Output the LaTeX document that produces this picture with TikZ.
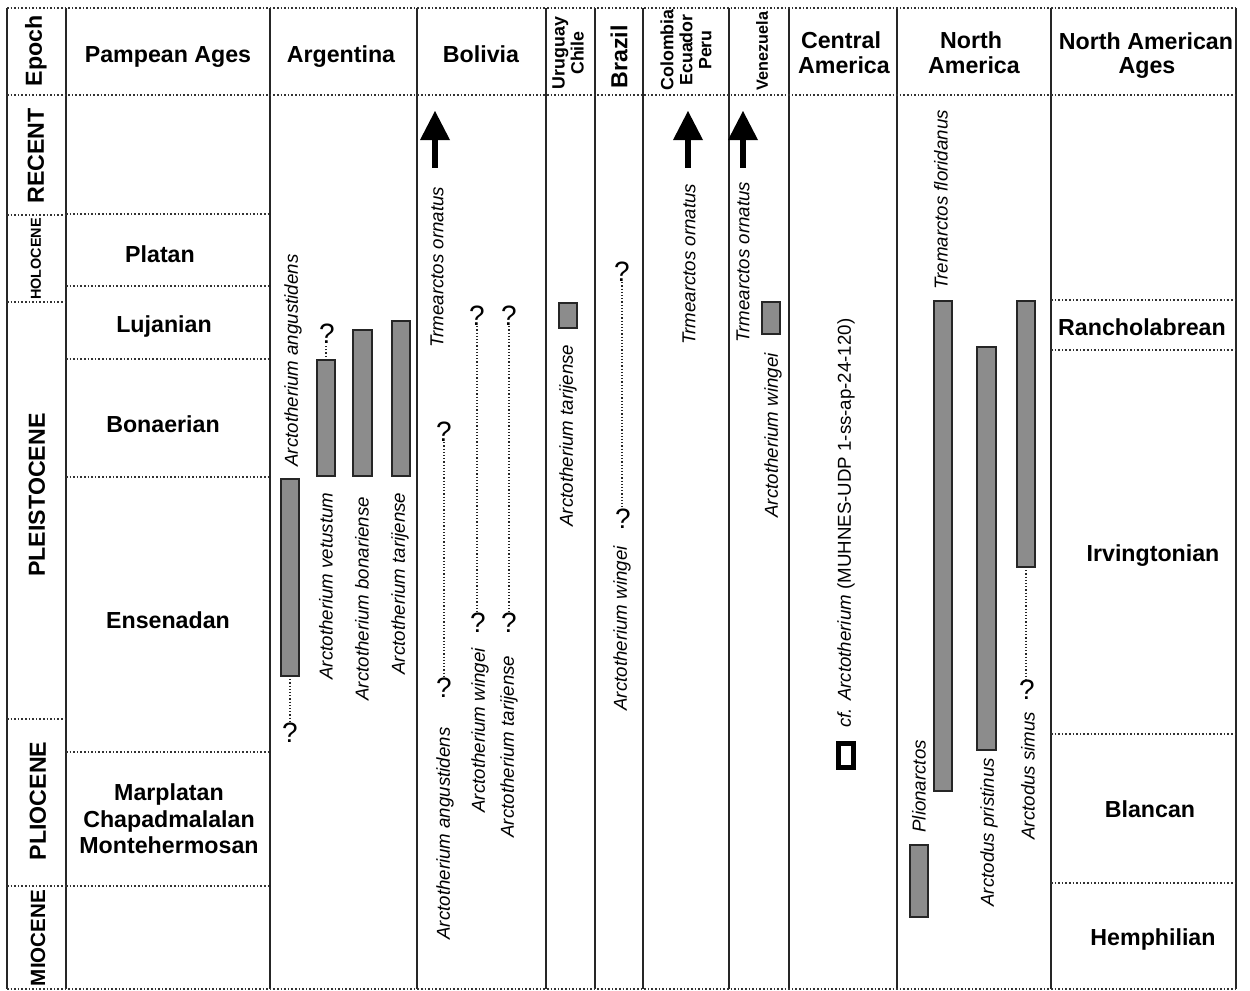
\documentclass[tikz,border=0pt]{standalone}
\usepackage{fontspec}
\setmainfont{Liberation Sans}
\begin{document}
\begin{tikzpicture}[x=0.5pt,y=-0.5pt,
  vline/.style={line width=0.9pt, black!85},
  hline/.style={line width=0.8pt, black!80, densely dotted},
  hdr/.style={font=\fontsize{11.6}{14}\selectfont\bfseries, inner sep=0, anchor=base},
  eplab/.style={font=\fontsize{11.6}{14}\selectfont\bfseries, inner sep=0, rotate=90},
  smallhdr/.style={font=\fontsize{8.9}{9.5}\selectfont\bfseries, inner sep=0, rotate=90, align=center},
  sp/.style={font=\fontsize{9.35}{11}\selectfont\itshape, inner sep=0, rotate=90, anchor=west},
  spup/.style={font=\fontsize{9.35}{11}\selectfont, inner sep=0, rotate=90, anchor=west},
  qm/.style={font=\fontsize{14}{16}\selectfont, inner sep=0},
  rng/.style={draw=black!85, line width=0.6pt, fill=black!45},
  uncert/.style={densely dotted, line width=0.6pt, black!85}]
\useasboundingbox (0,0) rectangle (1250,991);
\fill[white] (0,0) rectangle (1250,991);

% ---------- grid ----------
\foreach \xx in {7,66,270,417,546,595,643,729,789,897,1051,1236}
  \draw[vline] (\xx,8) -- (\xx,989);
\draw[hline] (7,8) -- (1236,8);
\draw[hline] (7,95) -- (1236,95);
\draw[hline] (7,989) -- (1236,989);
\foreach \yy in {215,302,719,886} \draw[hline] (7,\yy) -- (66,\yy);
\foreach \yy in {214,286,359,477,752,886} \draw[hline] (66,\yy) -- (270,\yy);
\foreach \yy in {300,350,734,883} \draw[hline] (1051,\yy) -- (1236,\yy);

% ---------- header ----------
\node[eplab] (hEpoch) at (36,51) {Epoch};
\node[hdr] (hPamp) at (168,62) {Pampean Ages};
\node[hdr] (hArg) at (341,62) {Argentina};
\node[hdr] (hBol) at (481,62) {Bolivia};
\node[smallhdr] (hUru) at (568,53) {Uruguay\\Chile};
\node[eplab] (hBra) at (619,57) {Brazil};
\node[smallhdr] (hCol) at (686,50) {Colombia\\Ecuador\\Peru};
\node[smallhdr, font=\fontsize{8.1}{9}\selectfont\bfseries] (hVen) at (762,51) {Venezuela};
\node[hdr] (hCA1) at (841,48) {Central};
\node[hdr] (hCA2) at (844,73) {America};
\node[hdr] (hNA1) at (971,48) {North};
\node[hdr] (hNA2) at (974,73) {America};
\node[hdr] (hNAA1) at (1146,49) {North American};
\node[hdr] (hNAA2) at (1147,73) {Ages};

% ---------- epochs ----------
\node[eplab] (eRec) at (36,156) {RECENT};
\node[eplab, font=\fontsize{7.2}{8}\selectfont\bfseries] (eHol) at (36,259) {HOLOCENE};
\node[eplab] (ePle) at (37,495) {PLEISTOCENE};
\node[eplab] (ePli) at (38,801) {PLIOCENE};
\node[eplab, font=\fontsize{10.3}{12}\selectfont\bfseries] (eMio) at (38,938) {MIOCENE};

% ---------- Pampean ages ----------
\node[hdr] (pPla) at (160,262) {Platan};
\node[hdr] (pLuj) at (164,332) {Lujanian};
\node[hdr] (pBon) at (163,432) {Bonaerian};
\node[hdr] (pEns) at (168,628) {Ensenadan};
\node[hdr] (pMar) at (169,800) {Marplatan};
\node[hdr] (pCha) at (169,827) {Chapadmalalan};
\node[hdr] (pMon) at (169,853) {Montehermosan};

% ---------- North American ages ----------
\node[hdr] (nRan) at (1142,335) {Rancholabrean};
\node[hdr] (nIrv) at (1153,561) {Irvingtonian};
\node[hdr] (nBla) at (1150,817) {Blancan};
\node[hdr] (nHem) at (1153,945) {Hemphilian};

% ---------- Argentina ----------
\draw[rng] (281,479) rectangle (299,676);
\coordinate (argAngB) at (290,676);
\node[qm] (qArgAng) at (290,733) {?};
\draw[uncert] (argAngB) -- (qArgAng.north);
\node[sp] (sArgAng) at (293,467) {Arctotherium angustidens};

\draw[rng] (317,360) rectangle (335,476);
\coordinate (argVetT) at (326,360);
\node[qm] (qArgVet) at (327,334) {?};
\draw[uncert] (argVetT) -- (qArgVet.south -| argVetT);
\node[sp] (sArgVet) at (326,680) {Arctotherium vetustum};

\draw[rng] (353,330) rectangle (372,476);
\node[sp] (sArgBon) at (362,701) {Arctotherium bonariense};

\draw[rng] (392,321) rectangle (410,476);
\node[sp] (sArgTar) at (400,675) {Arctotherium tarijense};

% ---------- arrows (Tremarctos ornatus) ----------
\foreach \ax/\nm in {435/aBol,688/aCol,743/aVen}{
  \fill (\ax,111) -- (\ax+15,140) -- (\ax-15,140) -- cycle;
  \draw[line width=2.8pt] (\ax,139) -- (\ax,168);
}

% ---------- Bolivia ----------
\node[sp] (sBolOrn) at (437,348) {Trmearctos ornatus};
\node[qm] (qBolA1) at (444,432) {?};
\node[qm] (qBolA2) at (444,688) {?};
\draw[uncert] (qBolA1.south) -- (qBolA2.north);
\node[sp] (sBolAng) at (445,940) {Arctotherium angustidens};

\node[qm] (qBolW1) at (477,316) {?};
\node[qm] (qBolW2) at (478,623) {?};
\draw[uncert] (qBolW1.south) -- (qBolW2.north -| qBolW1.south);
\node[sp] (sBolWin) at (480,813) {Arctotherium wingei};

\node[qm] (qBolT1) at (509,316) {?};
\node[qm] (qBolT2) at (509,623) {?};
\draw[uncert] (qBolT1.south) -- (qBolT2.north);
\node[sp] (sBolTar) at (509,838) {Arctotherium tarijense};

% ---------- Uruguay / Chile ----------
\draw[rng] (559,303) rectangle (577,328);
\node[sp] (sUruTar) at (568,527) {Arctotherium tarijense};

% ---------- Brazil ----------
\node[qm] (qBra1) at (622,272) {?};
\node[qm] (qBra2) at (623,519) {?};
\draw[uncert] (qBra1.south) -- (qBra2.north -| qBra1.south);
\node[sp] (sBraWin) at (622,711) {Arctotherium wingei};

% ---------- Colombia / Ecuador / Peru ----------
\node[sp] (sColOrn) at (689,345) {Trmearctos ornatus};

% ---------- Venezuela ----------
\node[sp] (sVenOrn) at (743,343) {Trmearctos ornatus};
\draw[rng] (762,302) rectangle (780,334);
\node[sp] (sVenWin) at (773,518) {Arctotherium wingei};

% ---------- Central America ----------
\draw[line width=2.2pt] (838.5,743.5) rectangle (853.5,767.5);
\node[spup] (sCA) at (846,728) {{\itshape cf. Arctotherium} (MUHNES-UDP 1-ss-ap-24-120)};

% ---------- North America ----------
\node[sp] (sTreFlo) at (941,290) {Tremarctos floridanus};
\draw[rng] (934,301) rectangle (952,791);

\draw[rng] (910,845) rectangle (928,917);
\node[sp] (sPlio) at (919,833) {Plionarctos};

\draw[rng] (977,347) rectangle (996,750);
\node[sp] (sArcPri) at (989,907) {Arctodus pristinus};

\draw[rng] (1017,301) rectangle (1035,567);
\coordinate (simB) at (1026,567);
\node[qm] (qSim) at (1027,690) {?};
\draw[uncert] (simB) -- (qSim.north -| simB);
\node[sp] (sArcSim) at (1028,840) {Arctodus simus};

\end{tikzpicture}
\end{document}
